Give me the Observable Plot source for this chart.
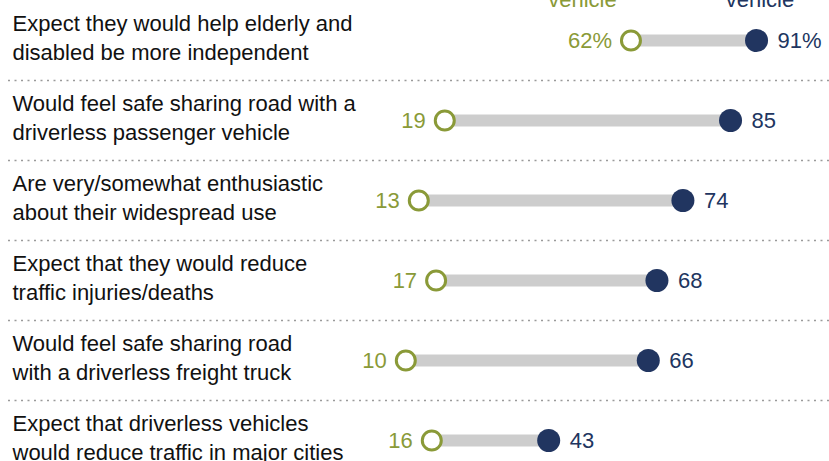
<!DOCTYPE html>
<html>
<head>
<meta charset="utf-8">
<script src="https://cdn.jsdelivr.net/npm/d3@7"></script>
<script src="https://cdn.jsdelivr.net/npm/@observablehq/plot@0.6"></script>
<style>
  html, body { margin: 0; padding: 0; background: #fff; overflow: hidden; }
  #chart svg { display: block; overflow: hidden; }
</style>
</head>
<body>
<div id="chart"></div>
<script>
const categories = [
  "Expect they would help elderly and\ndisabled be more independent",
  "Would feel safe sharing road with a\ndriverless passenger vehicle",
  "Are very/somewhat enthusiastic\nabout their widespread use",
  "Expect that they would reduce\ntraffic injuries/deaths",
  "Would feel safe sharing road\nwith a driverless freight truck",
  "Expect that driverless vehicles\nwould reduce traffic in major cities"
];
const wouldNotRide = [62, 19, 13, 17, 10, 16];
const wouldRide = [91, 85, 74, 68, 66, 43];
const seriesHeaders = ["Would not ride\nin a driverless\nvehicle", "Would ride\nin a driverless\nvehicle"];
const headerX = [50.8, 91.8];

const GREEN = "#8a9a38";
const NAVY = "#213560";

const rows = categories.map((c, i) => ({i, label: c, no: wouldNotRide[i], yes: wouldRide[i]}));
const seps = d3.range(categories.length - 1).map(i => i + 0.5);
const fmt = (v, i) => i === 0 ? `${v}%` : `${v}`;

const plot = Plot.plot({
  width: 829,
  height: 461,
  marginTop: 0, marginBottom: 0, marginLeft: 0, marginRight: 0,
  style: {fontFamily: "Liberation Sans, Arial, sans-serif", fontSize: "22px", background: "#fff", color: "#000"},
  x: {domain: [0, 100], range: [362, 795], axis: null},
  y: {domain: [-0.5, categories.length - 0.5], range: [0, 80 * categories.length], axis: null},
  marks: [
    Plot.ruleY(seps, {y: d => d, stroke: "#9a9a9a", strokeWidth: 1.6, strokeDasharray: "2,4.5", insetLeft: 8}),
    Plot.ruleY(rows, {y: "i", x1: "no", x2: "yes", stroke: "#cdcdcd", strokeWidth: 12, strokeOpacity: 1}),
    Plot.dot(rows, {x: "no", y: "i", r: 9.5, fill: "#fff", stroke: GREEN, strokeWidth: 3}),
    Plot.dot(rows, {x: "yes", y: "i", r: 11.5, fill: NAVY, stroke: "none"}),
    Plot.text(rows, {x: "no", y: "i", text: d => fmt(d.no, d.i), textAnchor: "end", dx: -19, fill: GREEN, fontSize: 22}),
    Plot.text(rows, {x: "yes", y: "i", text: d => fmt(d.yes, d.i), textAnchor: "start", dx: 21, fill: NAVY, fontSize: 22}),
    Plot.text(rows, {y: "i", text: "label", frameAnchor: "left", textAnchor: "start", dx: 12, dy: -4, lineAnchor: "middle", lineHeight: 1.32, fill: "#111", fontSize: 22}),
    Plot.text(seriesHeaders, {x: (d, i) => headerX[i], y: () => -0.5, text: d => d, textAnchor: "middle", lineAnchor: "bottom", dy: 6, lineHeight: 1.2, fill: (d, i) => i === 0 ? GREEN : NAVY, fontSize: 22})
  ]
});
document.getElementById("chart").appendChild(plot);
</script>
</body>
</html>
